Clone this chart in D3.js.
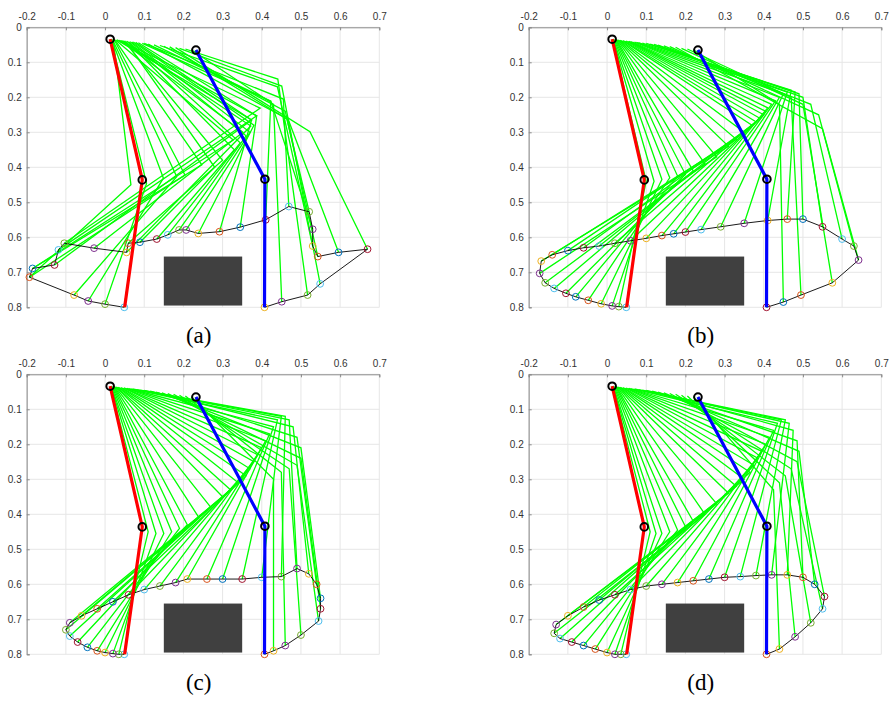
<!DOCTYPE html>
<html lang="en">
<head>
<meta charset="UTF-8">
<title>Leg trajectories</title>
<script src="https://d3js.org/d3.v7.min.js"></script>
<style>
  body { margin: 0; background: #fff; }
  .tick text { font-family: "Liberation Sans", Arial, sans-serif; font-size: 10px; fill: #333; }
  .panel-label { font-family: "Liberation Serif", "Times New Roman", serif; font-size: 23px; fill: #000; }
</style>
</head>
<body>
<svg id="chart" width="889" height="702"></svg>
<script>
// axis ticks
const xTicks = [-0.2, -0.1, 0, 0.1, 0.2, 0.3, 0.4, 0.5, 0.6, 0.7];
const yTicks = [0, 0.1, 0.2, 0.3, 0.4, 0.5, 0.6, 0.7, 0.8];
const panelNames = ["(a)", "(b)", "(c)", "(d)"];

// obstacle box: x0, x1, y0, y1
const obstacle = [0.15, 0.35, 0.655, 0.795];

// start pose (red) and end pose (blue): hip, knee, foot
const startLeg = [[0.013, 0.034], [0.095, 0.436], [0.050, 0.800]];
const endLeg = [[0.232, 0.065], [0.408, 0.434], [0.407, 0.800]];

// foot trajectories
const trajA = [[0.049,0.800],[0.000,0.791],[-0.043,0.782],[-0.079,0.765],[-0.193,0.714],[-0.185,0.689],[-0.129,0.679],[-0.119,0.636],[-0.104,0.617],[-0.028,0.631],[0.055,0.643],[0.059,0.617],[0.089,0.614],[0.132,0.605],[0.160,0.593],[0.189,0.579],[0.207,0.579],[0.238,0.589],[0.292,0.584],[0.345,0.571],[0.410,0.550],[0.469,0.512],[0.521,0.527],[0.530,0.577],[0.530,0.625],[0.543,0.655],[0.596,0.643],[0.670,0.634],[0.549,0.733],[0.517,0.765],[0.451,0.784],[0.407,0.800]];
const trajB = [[0.049,0.800],[0.030,0.798],[0.013,0.796],[-0.015,0.790],[-0.048,0.780],[-0.080,0.770],[-0.105,0.760],[-0.135,0.746],[-0.158,0.730],[-0.172,0.703],[-0.168,0.668],[-0.140,0.650],[-0.100,0.638],[-0.060,0.630],[-0.020,0.625],[0.020,0.617],[0.060,0.610],[0.100,0.603],[0.140,0.595],[0.170,0.590],[0.200,0.585],[0.240,0.578],[0.290,0.570],[0.350,0.560],[0.410,0.552],[0.460,0.548],[0.500,0.548],[0.550,0.570],[0.600,0.605],[0.630,0.625],[0.642,0.665],[0.575,0.730],[0.495,0.765],[0.450,0.785],[0.407,0.800]];
const trajC = [[0.049,0.800],[0.035,0.800],[0.020,0.798],[0.000,0.795],[-0.020,0.790],[-0.045,0.780],[-0.070,0.765],[-0.090,0.748],[-0.100,0.730],[-0.090,0.710],[-0.060,0.690],[-0.020,0.670],[0.020,0.650],[0.060,0.630],[0.100,0.615],[0.140,0.605],[0.180,0.595],[0.210,0.585],[0.260,0.585],[0.300,0.585],[0.350,0.585],[0.400,0.580],[0.450,0.578],[0.490,0.555],[0.520,0.570],[0.540,0.600],[0.550,0.640],[0.550,0.670],[0.545,0.705],[0.500,0.745],[0.460,0.775],[0.430,0.790],[0.407,0.800]];
const trajD = [[0.049,0.800],[0.035,0.800],[0.020,0.800],[0.000,0.795],[-0.030,0.785],[-0.060,0.775],[-0.090,0.765],[-0.120,0.755],[-0.135,0.740],[-0.130,0.715],[-0.100,0.690],[-0.060,0.665],[-0.020,0.645],[0.020,0.630],[0.060,0.615],[0.100,0.605],[0.140,0.600],[0.180,0.595],[0.220,0.590],[0.260,0.585],[0.300,0.580],[0.340,0.578],[0.380,0.575],[0.420,0.573],[0.460,0.573],[0.500,0.580],[0.530,0.600],[0.555,0.635],[0.550,0.670],[0.520,0.710],[0.480,0.750],[0.440,0.785],[0.407,0.800]];

// green leg poses: hipX, hipY, kneeX, kneeY, index of foot point
const legsA = [[0.013,0.034,0.095,0.436,0],[0.015,0.034,0.106,0.446,1],[0.017,0.035,0.149,0.431,2],[0.019,0.035,0.183,0.427,3],[0.021,0.035,0.066,0.450,4],[0.023,0.035,0.204,0.422,4],[0.025,0.036,0.247,0.393,5],[0.027,0.036,0.327,0.322,5],[0.030,0.036,0.374,0.265,6],[0.033,0.037,0.387,0.253,7],[0.036,0.037,0.396,0.231,8],[0.040,0.038,0.352,0.300,9],[0.044,0.038,0.372,0.282,10],[0.048,0.039,0.300,0.380,11],[0.052,0.039,0.280,0.400,12],[0.056,0.040,0.330,0.350,13],[0.060,0.041,0.345,0.330,14],[0.064,0.041,0.360,0.310,15],[0.068,0.042,0.370,0.300,16],[0.072,0.042,0.380,0.280,17],[0.078,0.043,0.374,0.265,18],[0.085,0.044,0.387,0.253,19],[0.095,0.046,0.423,0.211,20],[0.100,0.046,0.455,0.205,21],[0.110,0.048,0.464,0.261,22],[0.125,0.050,0.423,0.211,23],[0.140,0.052,0.440,0.170,24],[0.150,0.054,0.460,0.240,25],[0.165,0.056,0.468,0.265,26],[0.180,0.058,0.523,0.298,27],[0.190,0.060,0.451,0.168,28],[0.205,0.062,0.441,0.148,29],[0.220,0.064,0.430,0.220,30],[0.232,0.065,0.408,0.434,31]];
const legsB = [[0.013,0.034,0.095,0.436,0],[0.014,0.034,0.100,0.440,1],[0.015,0.034,0.120,0.440,2],[0.016,0.035,0.140,0.435,3],[0.018,0.035,0.160,0.430,4],[0.020,0.035,0.180,0.425,5],[0.022,0.035,0.200,0.420,6],[0.024,0.036,0.220,0.410,7],[0.026,0.036,0.250,0.390,8],[0.028,0.036,0.280,0.370,9],[0.030,0.037,0.310,0.340,10],[0.033,0.037,0.330,0.320,11],[0.036,0.038,0.350,0.300,12],[0.040,0.038,0.370,0.280,13],[0.044,0.039,0.380,0.270,14],[0.048,0.039,0.390,0.260,15],[0.052,0.040,0.400,0.250,16],[0.056,0.040,0.405,0.240,17],[0.060,0.041,0.410,0.230,18],[0.065,0.042,0.420,0.220,19],[0.070,0.042,0.430,0.210,20],[0.075,0.043,0.440,0.200,21],[0.080,0.044,0.450,0.190,22],[0.090,0.045,0.460,0.185,23],[0.100,0.046,0.470,0.180,24],[0.110,0.048,0.480,0.185,25],[0.120,0.049,0.490,0.190,26],[0.130,0.051,0.500,0.200,27],[0.145,0.053,0.520,0.220,28],[0.160,0.055,0.540,0.250,29],[0.175,0.057,0.550,0.290,30],[0.190,0.060,0.500,0.220,31],[0.205,0.062,0.470,0.200,32],[0.220,0.064,0.440,0.220,33],[0.232,0.065,0.408,0.434,34]];
const legsC = [[0.013,0.034,0.095,0.436,0],[0.014,0.034,0.110,0.450,1],[0.015,0.034,0.130,0.455,2],[0.016,0.035,0.150,0.455,3],[0.018,0.035,0.170,0.450,4],[0.020,0.035,0.190,0.440,5],[0.022,0.035,0.210,0.430,6],[0.024,0.036,0.240,0.410,7],[0.026,0.036,0.270,0.380,8],[0.028,0.036,0.300,0.350,9],[0.030,0.037,0.320,0.330,10],[0.033,0.037,0.340,0.310,11],[0.036,0.038,0.360,0.290,12],[0.040,0.038,0.370,0.270,13],[0.044,0.039,0.380,0.250,14],[0.048,0.039,0.390,0.230,15],[0.052,0.040,0.400,0.210,16],[0.056,0.040,0.410,0.190,17],[0.060,0.041,0.420,0.170,18],[0.065,0.042,0.430,0.150,19],[0.070,0.042,0.440,0.130,20],[0.080,0.044,0.450,0.120,21],[0.090,0.045,0.460,0.120,22],[0.100,0.046,0.470,0.130,23],[0.115,0.048,0.480,0.150,24],[0.130,0.051,0.490,0.180,25],[0.145,0.053,0.500,0.210,26],[0.160,0.055,0.500,0.240,27],[0.175,0.057,0.490,0.260,28],[0.190,0.060,0.470,0.270,29],[0.205,0.062,0.450,0.280,30],[0.220,0.064,0.430,0.300,31],[0.232,0.065,0.408,0.434,32]];
const legsD = [[0.013,0.034,0.095,0.436,0],[0.014,0.034,0.110,0.450,1],[0.015,0.034,0.125,0.455,2],[0.016,0.035,0.140,0.455,3],[0.018,0.035,0.160,0.450,4],[0.020,0.035,0.180,0.445,5],[0.022,0.035,0.200,0.435,6],[0.024,0.036,0.220,0.420,7],[0.026,0.036,0.250,0.400,8],[0.028,0.036,0.280,0.370,9],[0.030,0.037,0.310,0.340,10],[0.033,0.037,0.330,0.320,11],[0.036,0.038,0.350,0.300,12],[0.040,0.038,0.365,0.280,13],[0.044,0.039,0.375,0.260,14],[0.048,0.039,0.385,0.240,15],[0.052,0.040,0.395,0.220,16],[0.056,0.040,0.405,0.200,17],[0.060,0.041,0.415,0.180,18],[0.065,0.042,0.425,0.160,19],[0.070,0.042,0.435,0.140,20],[0.080,0.044,0.445,0.130,21],[0.090,0.045,0.455,0.130,22],[0.100,0.046,0.465,0.140,23],[0.115,0.048,0.475,0.160,24],[0.130,0.051,0.485,0.190,25],[0.145,0.053,0.490,0.220,26],[0.160,0.055,0.485,0.250,27],[0.175,0.057,0.470,0.270,28],[0.190,0.060,0.455,0.290,29],[0.205,0.062,0.440,0.310,30],[0.220,0.064,0.425,0.330,31],[0.232,0.065,0.408,0.434,32]];

const panels = [
  {traj: trajA, legs: legsA, left: 26.7, top: 27.3},
  {traj: trajB, legs: legsB, left: 528.7, top: 27.3},
  {traj: trajC, legs: legsC, left: 26.7, top: 374.3},
  {traj: trajD, legs: legsD, left: 528.7, top: 374.3}
];

const plotW = 352.6, plotH = 280;
const palette = ["#0072BD", "#D95319", "#EDB120", "#7E2F8E", "#77AC30", "#4DBEEE", "#A2142F"];

const svg = d3.select("#chart");
const x = d3.scaleLinear().domain([-0.2, 0.7]).range([0, plotW]);
const y = d3.scaleLinear().domain([0, 0.8]).range([0, plotH]);
const fmt = d => String(+d.toFixed(1));
const line = d3.line().x(d => x(d[0])).y(d => y(d[1]));

panels.forEach((p, pi) => {
  let g = svg.append("g").attr("transform", "translate(" + p.left + "," + p.top + ")");

  // grid
  g.selectAll(".gx").data(xTicks).enter().append("line")
    .attr("x1", d => x(d)).attr("x2", d => x(d)).attr("y1", 0).attr("y2", plotH)
    .attr("stroke", "#e6e6e6").attr("stroke-width", 1);
  g.selectAll(".gy").data(yTicks).enter().append("line")
    .attr("x1", 0).attr("x2", plotW).attr("y1", d => y(d)).attr("y2", d => y(d))
    .attr("stroke", "#e6e6e6").attr("stroke-width", 1);

  // axes (top and left, ticks pointing inward)
  let xa = g.append("g").call(d3.axisTop(x).tickValues(xTicks).tickFormat(fmt).tickSize(-3).tickPadding(7));
  let ya = g.append("g").call(d3.axisLeft(y).tickValues(yTicks).tickFormat(fmt).tickSize(-3).tickPadding(5));
  [xa, ya].forEach(a => {
    a.select(".domain").attr("stroke", "#8c8c8c");
    a.selectAll(".tick line").attr("stroke", "#8c8c8c");
  });

  // obstacle
  g.append("rect")
    .attr("x", x(obstacle[0])).attr("y", y(obstacle[2]))
    .attr("width", x(obstacle[1]) - x(obstacle[0]))
    .attr("height", y(obstacle[3]) - y(obstacle[2]))
    .attr("fill", "#404040");

  // green leg poses
  g.selectAll(".leg").data(p.legs).enter().append("path")
    .attr("d", d => line([[d[0], d[1]], [d[2], d[3]], p.traj[d[4]]]))
    .attr("fill", "none").attr("stroke", "#00ff00").attr("stroke-width", 1.3);

  // foot trajectory
  g.append("path").attr("d", line(p.traj))
    .attr("fill", "none").attr("stroke", "#000").attr("stroke-width", 0.9);
  g.selectAll(".foot").data(p.traj).enter().append("circle")
    .attr("cx", d => x(d[0])).attr("cy", d => y(d[1])).attr("r", 3.4)
    .attr("fill", "none").attr("stroke-width", 1)
    .attr("stroke", (d, i) => palette[((5 - i) % 7 + 7) % 7]);

  // start and end legs
  [[startLeg, "#ff0000"], [endLeg, "#0000ff"]].forEach(([leg, c]) => {
    g.append("path").attr("d", line(leg))
      .attr("fill", "none").attr("stroke", c).attr("stroke-width", 3.2);
    g.selectAll(null).data(leg.slice(0, 2)).enter().append("circle")
      .attr("cx", d => x(d[0])).attr("cy", d => y(d[1])).attr("r", 3.8)
      .attr("fill", "none").attr("stroke", "#000").attr("stroke-width", 2);
  });

  svg.append("text").attr("class", "panel-label")
    .attr("x", p.left + 172).attr("y", p.top + 316)
    .attr("text-anchor", "middle")
    .text(panelNames[pi]);
});
</script>
</body>
</html>
